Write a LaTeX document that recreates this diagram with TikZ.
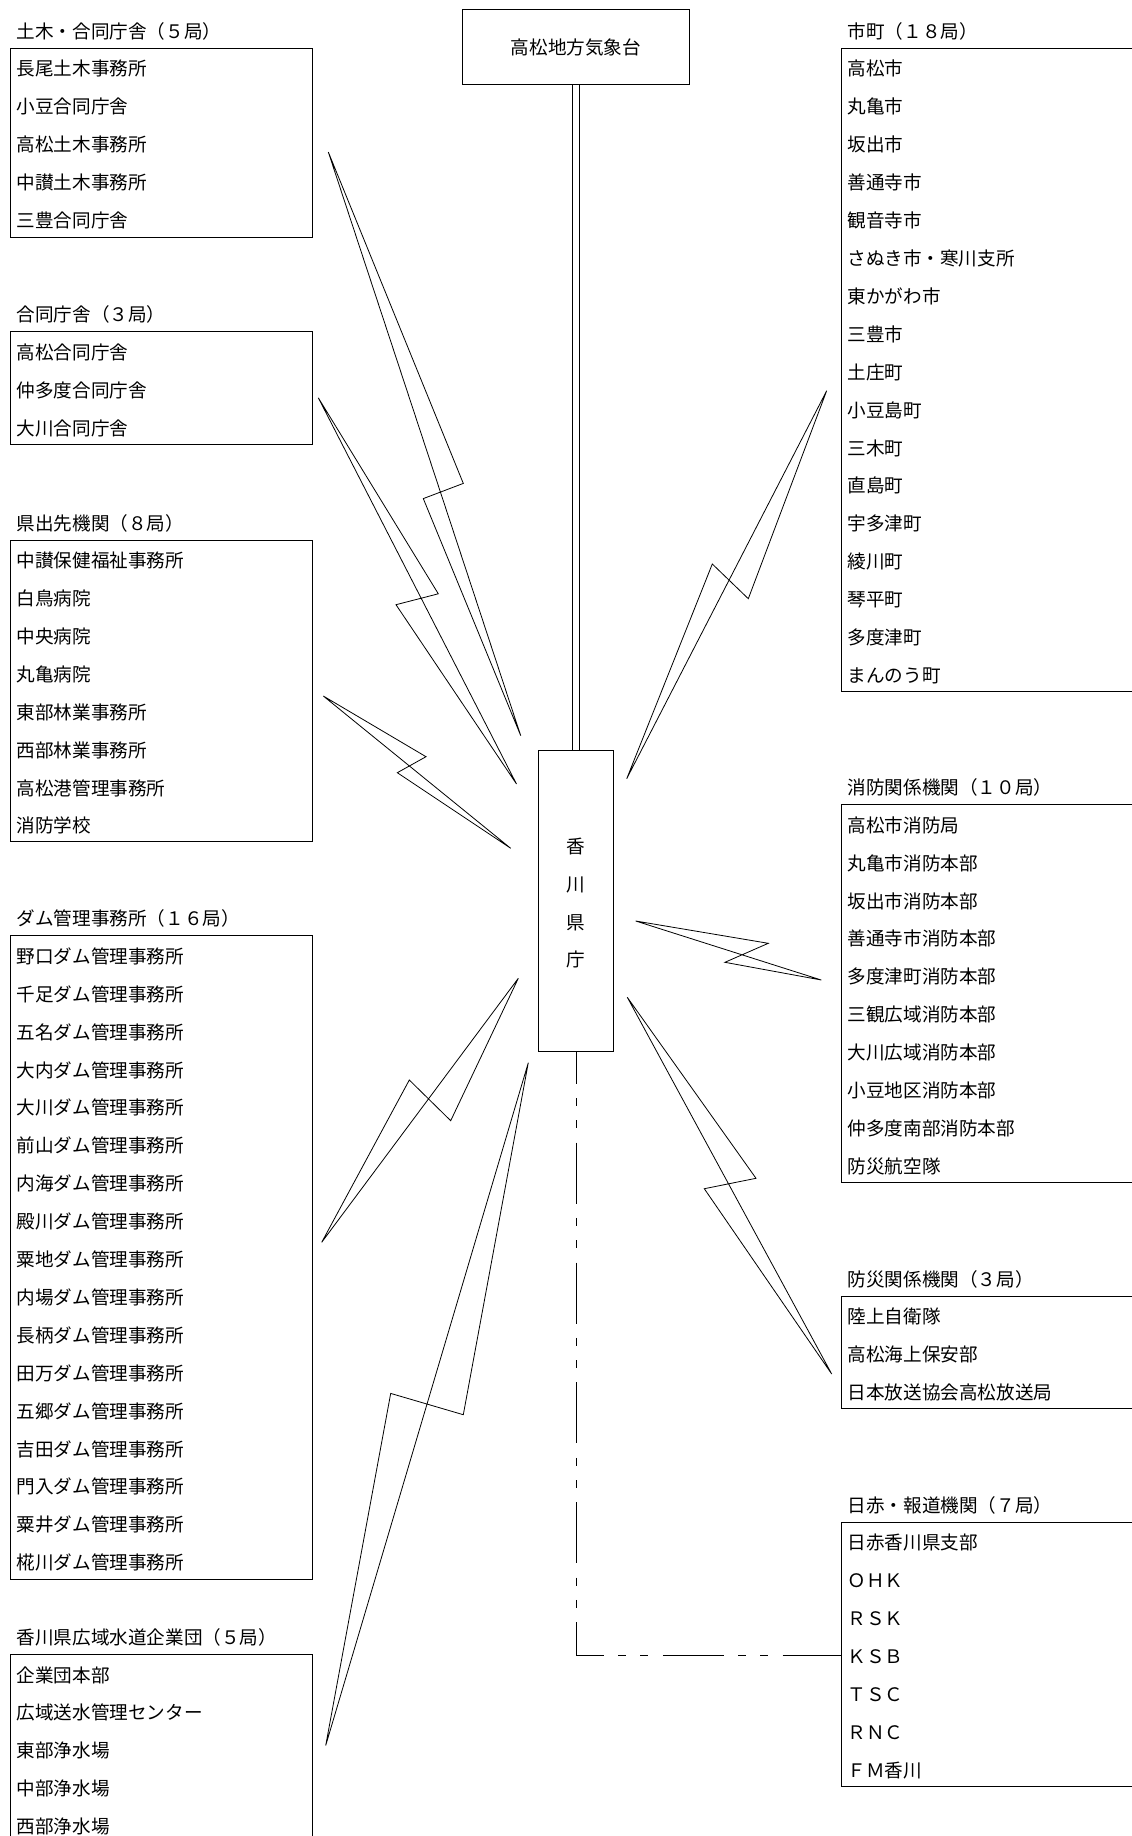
\documentclass[tikz,border=0pt]{standalone}
\usepackage{fontspec}
\setmainfont{Noto Sans CJK JP}
\usetikzlibrary{calc,positioning}
\tikzset{
	every node/.style={inner sep=0pt},
	item/.style={anchor=west, font=\fontsize{18.6}{37.9}\selectfont, text height=17.6pt, text depth=1.4pt},
	grpbox/.style={draw, line width=1.1pt, anchor=north west, minimum width=302pt},
	widebox/.style={grpbox, minimum width=330pt},
	bolt/.style={line width=0.8pt, line join=miter},
	linkdash/.style={line width=1pt, dash pattern=on 61pt off 14.3pt on 8pt off 14.3pt on 8pt off 14.3pt, dash phase=29pt},
}

\begin{document}
\begin{tikzpicture}[x=1pt, y=-1pt]
	\useasboundingbox (0,0) rectangle (1132,1836);
	\clip (0,0) rectangle (1132,1836);
	\fill[white] (0,0) rectangle (1132,1836);

	\node[draw, line width=1.1pt, minimum width=227.1pt, minimum height=74.9pt, text height=17.6pt, text depth=1.4pt, font=\fontsize{18.6}{37.9}\selectfont] (kishodai) at (576,46.8) {高松地方気象台};
	\node[draw, line width=1.1pt, minimum width=74.9pt, minimum height=300.8pt] (kencho) at (576,900.8) {};
	\node[align=center, font=\fontsize{18.6}{37.8}\selectfont] (kencho-t) at ($(kencho.center)+(0,2.4)$) {香\\川\\県\\庁};
	\draw[double, double distance=5.2pt, line width=1pt] (kishodai) -- (kencho);

	\node[grpbox, minimum height=188.5pt] (doboku) at (9.5,48) {};
	\node[item] (doboku-t) at ($(doboku.north west)+(7,-17.6)$) {土木・合同庁舎（５局）};
	\foreach \t [count=\i] in {長尾土木事務所,小豆合同庁舎,高松土木事務所,中讃土木事務所,三豊合同庁舎}
		\node[item] (doboku-\i) at ($(doboku.north west)+(7,{19.9+37.9*(\i-1)})$) {\t};

	\node[grpbox, minimum height=112.4pt] (godo) at (9.5,331.3) {};
	\node[item] (godo-t) at ($(godo.north west)+(7,-17.6)$) {合同庁舎（３局）};
	\foreach \t [count=\i] in {高松合同庁舎,仲多度合同庁舎,大川合同庁舎}
		\node[item] (godo-\i) at ($(godo.north west)+(7,{19.9+37.9*(\i-1)})$) {\t};

	\node[grpbox, minimum height=301.5pt] (dekisaki) at (9.5,539.6) {};
	\node[item] (dekisaki-t) at ($(dekisaki.north west)+(7,-17.6)$) {県出先機関（８局）};
	\foreach \t [count=\i] in {中讃保健福祉事務所,白鳥病院,中央病院,丸亀病院,東部林業事務所,西部林業事務所,高松港管理事務所,消防学校}
		\node[item] (dekisaki-\i) at ($(dekisaki.north west)+(7,{19.9+37.9*(\i-1)})$) {\t};

	\node[grpbox, minimum height=643.3pt] (damu) at (9.5,935.3) {};
	\node[item] (damu-t) at ($(damu.north west)+(7,-17.6)$) {ダム管理事務所（１６局）};
	\foreach \t [count=\i] in {野口,千足,五名,大内,大川,前山,内海,殿川,粟地,内場,長柄,田万,五郷,吉田,門入,粟井,椛川}
		\node[item] (damu-\i) at ($(damu.north west)+(7,{19.9+37.9*(\i-1)})$) {\t ダム管理事務所};

	\node[grpbox, minimum height=260pt] (suido) at (9.5,1654) {};
	\node[item] (suido-t) at ($(suido.north west)+(7,-17.6)$) {香川県広域水道企業団（５局）};
	\foreach \t [count=\i] in {企業団本部,広域送水管理センター,東部浄水場,中部浄水場,西部浄水場}
		\node[item] (suido-\i) at ($(suido.north west)+(7,{19.9+37.9*(\i-1)})$) {\t};

	\node[widebox, minimum height=642.6pt] (shicho) at (840.5,48) {};
	\node[item] (shicho-t) at ($(shicho.north west)+(7,-17.6)$) {市町（１８局）};
	\foreach \t [count=\i] in {高松市,丸亀市,坂出市,善通寺市,観音寺市,さぬき市・寒川支所,東かがわ市,三豊市,土庄町,小豆島町,三木町,直島町,宇多津町,綾川町,琴平町,多度津町,まんのう町}
		\node[item] (shicho-\i) at ($(shicho.north west)+(7,{19.9+37.9*(\i-1)})$) {\t};

	\node[widebox, minimum height=377.5pt] (shobo) at (840.5,804.2) {};
	\node[item] (shobo-t) at ($(shobo.north west)+(7,-17.6)$) {消防関係機関（１０局）};
	\foreach \t [count=\i] in {高松市消防局,丸亀市消防本部,坂出市消防本部,善通寺市消防本部,多度津町消防本部,三観広域消防本部,大川広域消防本部,小豆地区消防本部,仲多度南部消防本部,防災航空隊}
		\node[item] (shobo-\i) at ($(shobo.north west)+(7,{19.9+37.9*(\i-1)})$) {\t};

	\node[widebox, minimum height=112.3pt] (bosai) at (840.5,1295.9) {};
	\node[item] (bosai-t) at ($(bosai.north west)+(7,-17.6)$) {防災関係機関（３局）};
	\foreach \t [count=\i] in {陸上自衛隊,高松海上保安部,日本放送協会高松放送局}
		\node[item] (bosai-\i) at ($(bosai.north west)+(7,{19.9+37.9*(\i-1)})$) {\t};

	\node[widebox, minimum height=263.8pt] (nippo) at (840.5,1521.8) {};
	\node[item] (nippo-t) at ($(nippo.north west)+(7,-17.6)$) {日赤・報道機関（７局）};
	\foreach \t [count=\i] in {日赤香川県支部,ＯＨＫ,ＲＳＫ,ＫＳＢ,ＴＳＣ,ＲＮＣ,ＦＭ香川}
		\node[item] (nippo-\i) at ($(nippo.north west)+(7,{19.9+37.9*(\i-1)})$) {\t};

	\draw[linkdash] (kencho.south) |- (nippo.west |- nippo-4);

	\coordinate (doboku-r) at (328.3,152);
	\coordinate (kencho-a) at (520.7,735.6);
	\draw[bolt] (doboku-r) -- (463.3,483.4) -- (423.3,498.6) -- (kencho-a) -- cycle;
	\coordinate (godo-r) at (318.3,397.8);
	\coordinate (kencho-b) at (516.5,784);
	\draw[bolt] (godo-r) -- (438.3,593.8) -- (396,604.7) -- (kencho-b) -- cycle;
	\coordinate (dekisaki-r) at (323.3,696);
	\coordinate (kencho-c) at (510.7,848.3);
	\draw[bolt] (dekisaki-r) -- (426,756.7) -- (397.3,772.7) -- (kencho-c) -- cycle;
	\coordinate (shicho-l) at (826.7,390.7);
	\coordinate (kencho-d) at (626.7,778.7);
	\draw[bolt] (shicho-l) -- (748.3,598.7) -- (712.3,564) -- (kencho-d) -- cycle;
	\coordinate (kencho-e) at (635.7,921);
	\coordinate (shobo-l) at (821.3,980);
	\draw[bolt] (kencho-e) -- (768.3,943.3) -- (724.9,962.3) -- (shobo-l) -- cycle;
	\coordinate (kencho-f) at (627.3,997.3);
	\coordinate (bosai-l) at (831.7,1374);
	\draw[bolt] (kencho-f) -- (756,1178.3) -- (704.3,1188.7) -- (bosai-l) -- cycle;
	\coordinate (kencho-g) at (518.3,978.3);
	\coordinate (damu-r) at (321.7,1242.3);
	\draw[bolt] (kencho-g) -- (450.7,1120.7) -- (409.3,1080) -- (damu-r) -- cycle;
	\coordinate (kencho-h) at (528.3,1062.7);
	\coordinate (suido-r) at (325.7,1745.5);
	\draw[bolt] (kencho-h) -- (463.3,1414.7) -- (390.7,1393.4) -- (suido-r) -- cycle;
\end{tikzpicture}
\end{document}
